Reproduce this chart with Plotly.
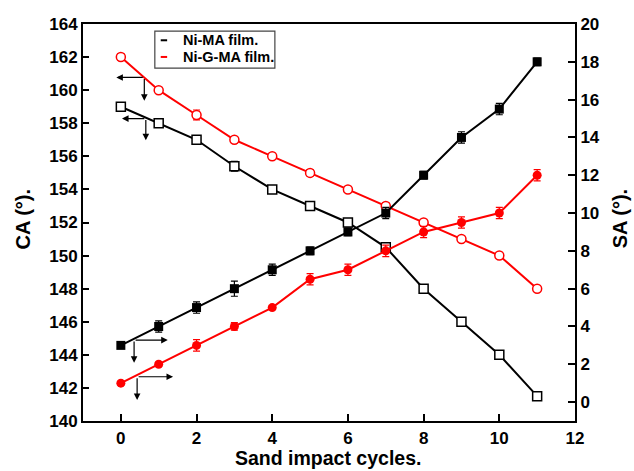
import plotly.graph_objects as go

# Sand impact cycles
cycles = [0, 1, 2, 3, 4, 5, 6, 7, 8, 9, 10, 11]

# Contact angle (CA, degrees)
ca_ni_ma = [159, 158, 157, 155.4, 154, 153, 152, 150.5, 148, 146, 144, 141.5]
ca_ni_ma_err = [0.1, 0.2, 0.2, 0.3, 0.2, 0.1, 0.1, 0.2, 0.1, 0.1, 0.2, 0.1]
ca_ni_g_ma = [162, 160, 158.5, 157, 156, 155, 154, 153, 152, 151, 150, 148]
ca_ni_g_ma_err = [0.2, 0.1, 0.3, 0.2, 0.1, 0.2, 0.1, 0.2, 0.1, 0.1, 0.1, 0.1]

# Sliding angle (SA, degrees)
sa_ni_ma = [3, 4, 5, 6, 7, 8, 9, 10, 12, 14, 15.5, 18]
sa_ni_ma_err = [0.1, 0.3, 0.3, 0.4, 0.3, 0.2, 0.2, 0.3, 0.2, 0.3, 0.3, 0.2]
sa_ni_g_ma = [1, 2, 3, 4, 5, 6.5, 7, 8, 9, 9.5, 10, 12]
sa_ni_g_ma_err = [0.1, 0.1, 0.3, 0.2, 0.1, 0.3, 0.3, 0.3, 0.3, 0.3, 0.3, 0.3]

series_names = ["Ni-MA film.", "Ni-G-MA film."]
x_title = "Sand impact cycles."
y_title = "CA (°)."
y2_title = "SA (°)."

BLACK = "#000000"
RED = "#ff0000"
FONT = "Liberation Sans, Arial, sans-serif"

fig = go.Figure()


def err(vals, color):
    return dict(type="data", array=vals, visible=True, color=color,
                thickness=1.2, width=3.5)


# CA series (left axis): open markers
fig.add_trace(go.Scatter(
    x=cycles, y=ca_ni_ma, mode="lines+markers", yaxis="y",
    line=dict(color=BLACK, width=2),
    marker=dict(symbol="square", size=9, color="white",
                line=dict(color=BLACK, width=1.5)),
    error_y=err(ca_ni_ma_err, BLACK), showlegend=False))
fig.add_trace(go.Scatter(
    x=cycles, y=ca_ni_g_ma, mode="lines+markers", yaxis="y",
    line=dict(color=RED, width=2),
    marker=dict(symbol="circle", size=9, color="white",
                line=dict(color=RED, width=1.5)),
    error_y=err(ca_ni_g_ma_err, RED), showlegend=False))

# SA series (right axis): filled markers
fig.add_trace(go.Scatter(
    x=cycles, y=sa_ni_ma, mode="lines+markers", yaxis="y2",
    line=dict(color=BLACK, width=2),
    marker=dict(symbol="square", size=9, color=BLACK),
    error_y=err(sa_ni_ma_err, BLACK), showlegend=False))
fig.add_trace(go.Scatter(
    x=cycles, y=sa_ni_g_ma, mode="lines+markers", yaxis="y2",
    line=dict(color=RED, width=2),
    marker=dict(symbol="circle", size=9, color=RED),
    error_y=err(sa_ni_g_ma_err, RED), showlegend=False))

# Axis-indicator arrows: (corner x, corner y, head x of horizontal, head y of vertical, axis)
indicators = [
    (0.62, 160.77, -0.12, 159.36, "y"),
    (0.66, 158.28, 0.03, 156.97, "y"),
    (0.35, 3.28, 1.24, 2.08, "y2"),
    (0.43, 1.34, 1.38, 0.11, "y2"),
]
annotations = []
for cx, cy, hx, vy, yr in indicators:
    common = dict(xref="x", yref=yr, axref="x", ayref=yr, showarrow=True,
                  arrowhead=2, arrowsize=1.1, arrowwidth=1.2,
                  arrowcolor=BLACK, text="", standoff=0, startstandoff=0)
    annotations.append(dict(x=hx, y=cy, ax=cx, ay=cy, **common))
    annotations.append(dict(x=cx, y=vy, ax=cx, ay=cy, **common))

# Legend box drawn by hand with short line keys
shapes = [dict(type="rect", xref="paper", yref="paper",
               x0=0.146, x1=0.390, y0=0.889, y1=0.982,
               line=dict(color="#444444", width=1.2), fillcolor="white")]
legend_rows = [(0.959, BLACK), (0.917, RED)]
for (ly, col), name in zip(legend_rows, series_names):
    shapes.append(dict(type="line", xref="paper", yref="paper",
                       x0=0.158, x1=0.171, y0=ly, y1=ly,
                       line=dict(color=col, width=2)))
    annotations.append(dict(xref="paper", yref="paper", x=0.199, y=ly,
                            xanchor="left", yanchor="middle", showarrow=False,
                            text=name,
                            font=dict(family=FONT, size=14.5, color=BLACK,
                                      weight="bold")))

# Axis titles placed as paper-anchored text
titlefont = dict(family=FONT, size=20, color=BLACK, weight="bold")
annotations.append(dict(xref="paper", yref="paper", x=0.498, y=-0.094,
                        xanchor="center", yanchor="middle", showarrow=False,
                        borderpad=0,
                        text=x_title, font=dict(titlefont, size=19.5)))
annotations.append(dict(xref="paper", yref="paper", x=-0.122, y=0.51,
                        xanchor="center", yanchor="middle", showarrow=False,
                        textangle=-90, text=y_title, font=titlefont))
annotations.append(dict(xref="paper", yref="paper", x=1.091, y=0.51,
                        xanchor="center", yanchor="middle", showarrow=False,
                        textangle=-90, text=y2_title, font=titlefont))

tickfont = dict(family=FONT, size=17, color=BLACK, weight="bold")
axis_common = dict(showline=True, linewidth=2, linecolor=BLACK,
                   ticks="inside", tickwidth=2, tickcolor=BLACK,
                   showgrid=False, zeroline=False, tickfont=tickfont,
                   automargin=False)

fig.update_layout(
    width=634, height=471,
    margin=dict(l=83, r=59, t=24, b=50),
    plot_bgcolor="white", paper_bgcolor="white",
    xaxis=dict(range=[-1, 12], tick0=0, dtick=2, ticklen=7, mirror=True,
               ticklabelstandoff=1, **axis_common),
    yaxis=dict(range=[140, 164], tick0=140, dtick=2, ticklen=6,
               **axis_common),
    yaxis2=dict(range=[-1, 20], tick0=0, dtick=2, ticklen=7,
                overlaying="y", side="right", **axis_common),
    annotations=annotations,
    shapes=shapes,
    showlegend=False,
)

fig.write_html("out.html")
